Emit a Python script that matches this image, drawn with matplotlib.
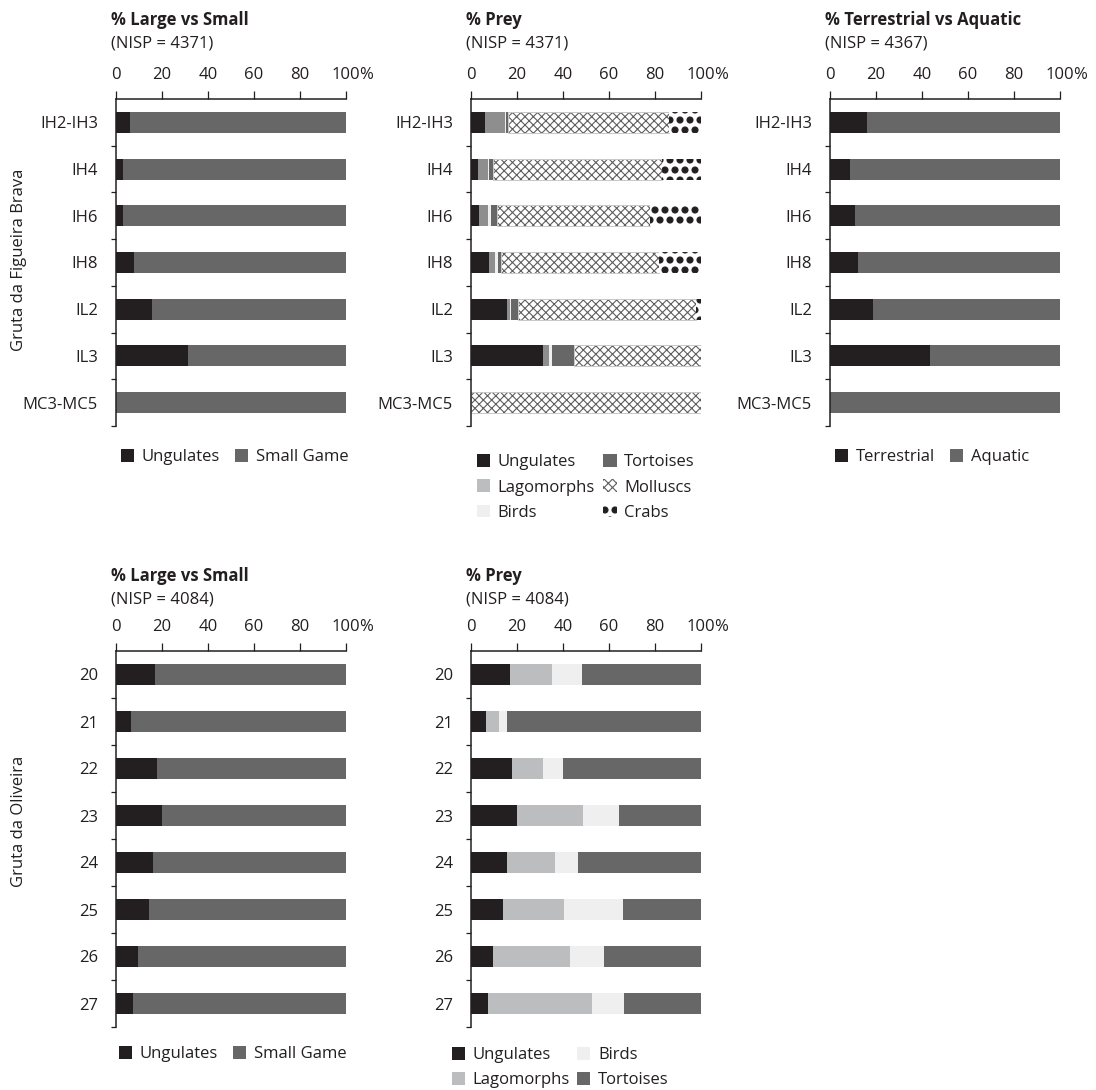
import matplotlib
matplotlib.use("Agg")
import matplotlib.pyplot as plt
import matplotlib.hatch as mhatch
from matplotlib.patches import Patch
from matplotlib.textpath import TextPath
from matplotlib.font_manager import FontProperties
import numpy as np


# Larger filled dots for the "Crabs" fill pattern (replaces the tiny "." hatch)
class CrabDots(mhatch.Circles):
    size = 0.3
    filled = True

    def __init__(self, hatch, density):
        self.num_rows = hatch.count(".") * 5
        super().__init__(hatch, density)


mhatch._hatch_types[mhatch._hatch_types.index(mhatch.SmallFilledCircles)] = CrabDots

FONT = ["Open Sans", "DejaVu Sans"]
plt.rcParams["font.family"] = FONT
plt.rcParams["hatch.linewidth"] = 0.8

# ---------------- data ----------------
fb_levels = ["IH2-IH3", "IH4", "IH6", "IH8", "IL2", "IL3", "MC3-MC5"]
ol_levels = ["20", "21", "22", "23", "24", "25", "26", "27"]
pct_ticks = [0, 20, 40, 60, 80, 100]

# Gruta da Figueira Brava - large vs small
fb_ls_ungulates = [5.9, 3.2, 3.2, 8.0, 15.6, 31.5, 0.0]
fb_ls_smallgame = [94.1, 96.8, 96.8, 92.0, 84.4, 68.5, 100.0]

# Gruta da Figueira Brava - prey
fb_ungulates = [5.9, 3.0, 3.6, 7.8, 15.6, 31.5, 0.0]
fb_lagomorphs = [8.7, 4.3, 4.0, 2.5, 1.3, 2.5, 0.0]
fb_birds = [0.6, 0.6, 1.2, 1.3, 0.6, 1.4, 0.0]
fb_tortoises = [0.7, 1.5, 2.3, 1.6, 2.8, 9.2, 0.0]
fb_molluscs = [70.4, 73.6, 66.8, 68.7, 77.5, 55.4, 100.0]
fb_crabs = [13.7, 17.0, 22.1, 18.1, 2.2, 0.0, 0.0]

# Gruta da Figueira Brava - terrestrial vs aquatic
fb_terrestrial = [15.9, 8.7, 10.7, 12.2, 18.7, 43.6, 0.0]
fb_aquatic = [84.1, 91.3, 89.3, 87.8, 81.3, 56.4, 100.0]

# Gruta da Oliveira - large vs small
ol_ls_ungulates = [16.9, 6.5, 17.8, 20.0, 15.9, 14.2, 9.6, 7.5]
ol_ls_smallgame = [83.1, 93.5, 82.2, 80.0, 84.1, 85.8, 90.4, 92.5]

# Gruta da Oliveira - prey
ol_ungulates = [16.9, 6.4, 17.7, 19.8, 15.8, 14.0, 9.4, 7.2]
ol_lagomorphs = [18.3, 5.6, 13.4, 28.8, 20.7, 26.5, 33.6, 45.2]
ol_birds = [13.0, 3.6, 9.1, 15.7, 10.0, 25.5, 14.9, 14.3]
ol_tortoises = [51.8, 84.4, 59.8, 35.7, 53.5, 34.0, 42.1, 33.3]

# ---------------- style ----------------
INK = "#231f20"
DARK_GREY = "#676767"
LAG_GREY = "#bcbdbf"
LAG_GREY_FB = "#8e8e8e"
BIRD_GREY = "#efefef"
HATCH_GREY = "#5e5e5e"
FS = 12
BAR_H = 0.45

W_PX, H_PX = 1096, 1090
fig = plt.figure(figsize=(W_PX / 100, H_PX / 100), dpi=100)


def fx(px):
    return px / W_PX


def fy(py):
    return 1 - py / H_PX


def make_axes(left, right, top, bottom):
    return fig.add_axes([fx(left), fy(bottom), fx(right - left), (bottom - top) / H_PX])


hundred_w = TextPath((0, 0), "100", size=FS, prop=FontProperties(family=FONT)).get_extents().width
X_TICK_LEN, X_PAD = 5.5, 6


def setup_axes(ax, levels):
    n = len(levels)
    ax.set_xlim(0, 100)
    ax.set_ylim(n, 0)
    for s in ("right", "bottom"):
        ax.spines[s].set_visible(False)
    for s in ("top", "left"):
        ax.spines[s].set_linewidth(1.1)
        ax.spines[s].set_color(INK)
    ax.xaxis.tick_top()
    ax.set_xticks(pct_ticks)
    ax.set_xticklabels([str(t) for t in pct_ticks])
    ax.tick_params(axis="x", which="major", direction="out", length=X_TICK_LEN,
                   width=0.9, pad=X_PAD, labelsize=FS, colors=INK)
    ax.set_yticks(np.arange(1, n + 1))
    ax.set_yticks(np.arange(n) + 0.5, minor=True)
    ax.set_yticklabels(levels, minor=True)
    ax.tick_params(axis="y", which="major", direction="out", length=3.6, width=0.9,
                   color=INK, labelleft=False)
    ax.tick_params(axis="y", which="minor", length=0, pad=13, labelsize=FS, labelcolor=INK)
    ax.annotate("%", xy=(100, 1), xycoords=("data", "axes fraction"),
                xytext=(hundred_w / 2 - 0.2, X_TICK_LEN + X_PAD), textcoords="offset points",
                ha="left", va="bottom", fontsize=FS, color=INK)


def stack(ax, levels, series):
    y = np.arange(len(levels)) + 0.5
    left = np.zeros(len(levels))
    for values, style in series:
        v = np.asarray(values, dtype=float)
        m = v > 0
        ax.barh(y[m], v[m], left=left[m], height=BAR_H, linewidth=0, **style)
        if style.get("hatch", "").startswith("x"):
            ax.barh(y[m], v[m], left=left[m], height=BAR_H, fill=False,
                    edgecolor="#c8c8c8", linewidth=0.7)
        left += v


def titles(ax_left_px, base_px, title, nisp):
    fig.text(fx(ax_left_px - 5), fy(base_px), title, fontsize=FS, fontweight="bold",
             color=INK, ha="left", va="baseline")
    fig.text(fx(ax_left_px - 5), fy(base_px + 22), nisp, fontsize=FS, color=INK,
             ha="left", va="baseline")


def legend(handles, labels, x_px, y_px, colsp):
    fig.legend(handles, labels, loc="upper left", bbox_to_anchor=(fx(x_px), fy(y_px)),
               bbox_transform=fig.transFigure, ncol=2, frameon=False, fontsize=FS,
               borderpad=0, borderaxespad=0, handlelength=0.8, handleheight=0.8,
               handletextpad=0.45, columnspacing=colsp, labelspacing=0.55,
               labelcolor=INK)


S_UNG = dict(color=INK)
S_DARK = dict(color=DARK_GREY)
S_LAG = dict(color=LAG_GREY)
S_LAG_FB = dict(color=LAG_GREY_FB)
S_BIRD = dict(color=BIRD_GREY)
S_MOLL = dict(facecolor="white", edgecolor=HATCH_GREY, hatch="xxxx")
S_CRAB = dict(facecolor="white", edgecolor=INK, hatch="..")

P_UNG = Patch(facecolor=INK, linewidth=0)
P_DARK = Patch(facecolor=DARK_GREY, linewidth=0)
P_LAG = Patch(facecolor=LAG_GREY, linewidth=0)
P_BIRD = Patch(facecolor=BIRD_GREY, linewidth=0)
P_MOLL = Patch(facecolor="white", edgecolor=HATCH_GREY, hatch="xxxx", linewidth=0)
P_CRAB = Patch(facecolor="white", edgecolor=INK, hatch="..", linewidth=0)

# ---------------- Gruta da Figueira Brava ----------------
TOP, BOT = 99, 426
ax1 = make_axes(116, 346, TOP, BOT)
setup_axes(ax1, fb_levels)
stack(ax1, fb_levels, [(fb_ls_ungulates, S_UNG), (fb_ls_smallgame, S_DARK)])
titles(116, 25, "% Large vs Small", "(NISP = 4371)")
legend([P_UNG, P_DARK], ["Ungulates", "Small Game"], 121, 449, 0.88)

ax2 = make_axes(471, 701, TOP, BOT)
setup_axes(ax2, fb_levels)
stack(ax2, fb_levels, [(fb_ungulates, S_UNG), (fb_lagomorphs, S_LAG_FB), (fb_birds, S_BIRD),
                       (fb_tortoises, S_DARK), (fb_molluscs, S_MOLL), (fb_crabs, S_CRAB)])
titles(471, 25, "% Prey", "(NISP = 4371)")
legend([P_UNG, P_LAG, P_BIRD, P_DARK, P_MOLL, P_CRAB],
       ["Ungulates", "Lagomorphs", "Birds", "Tortoises", "Molluscs", "Crabs"], 477, 454, 0.5)

ax3 = make_axes(830, 1060, TOP, BOT)
setup_axes(ax3, fb_levels)
stack(ax3, fb_levels, [(fb_terrestrial, S_UNG), (fb_aquatic, S_DARK)])
titles(830, 25, "% Terrestrial vs Aquatic", "(NISP = 4367)")
legend([P_UNG, P_DARK], ["Terrestrial", "Aquatic"], 835, 449, 0.9)

# ---------------- Gruta da Oliveira ----------------
TOP2, BOT2 = 651, 1027
ax4 = make_axes(116, 346, TOP2, BOT2)
setup_axes(ax4, ol_levels)
stack(ax4, ol_levels, [(ol_ls_ungulates, S_UNG), (ol_ls_smallgame, S_DARK)])
titles(116, 581, "% Large vs Small", "(NISP = 4084)")
legend([P_UNG, P_DARK], ["Ungulates", "Small Game"], 119, 1046, 0.88)

ax5 = make_axes(471, 701, TOP2, BOT2)
setup_axes(ax5, ol_levels)
stack(ax5, ol_levels, [(ol_ungulates, S_UNG), (ol_lagomorphs, S_LAG), (ol_birds, S_BIRD),
                       (ol_tortoises, S_DARK)])
titles(471, 581, "% Prey", "(NISP = 4084)")
legend([P_UNG, P_LAG, P_BIRD, P_DARK], ["Ungulates", "Lagomorphs", "Birds", "Tortoises"],
       452, 1047, 0.42)

# site labels
fig.text(fx(19), fy(260), "Gruta da Figueira Brava", rotation=90, ha="center", va="center",
         fontsize=FS, color=INK)
fig.text(fx(19), fy(821), "Gruta da Oliveira", rotation=90, ha="center", va="center",
         fontsize=FS, color=INK)

fig.savefig("out.png", dpi=100, facecolor="white")
